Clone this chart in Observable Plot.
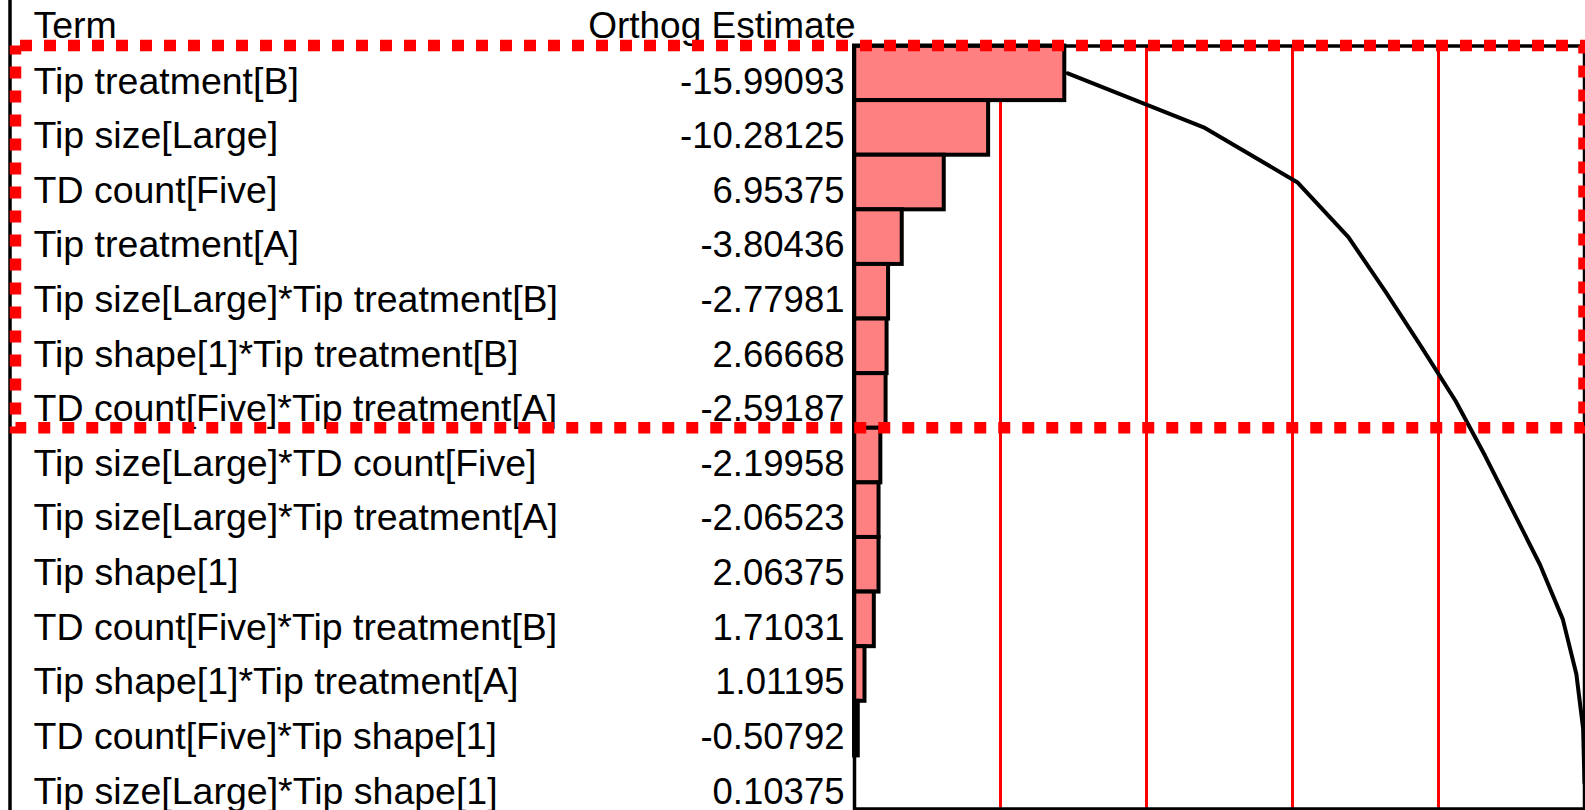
<!DOCTYPE html>
<html><head><meta charset="utf-8">
<script src="https://cdn.jsdelivr.net/npm/d3@7"></script>
<script src="https://cdn.jsdelivr.net/npm/@observablehq/plot@0.6"></script>
<style>
html,body{margin:0;padding:0;background:#fff;}
#chart{width:1585px;height:810px;overflow:hidden;}
</style></head><body><div id="chart"></div>
<script>
const terms = [
  "Tip treatment[B]",
  "Tip size[Large]",
  "TD count[Five]",
  "Tip treatment[A]",
  "Tip size[Large]*Tip treatment[B]",
  "Tip shape[1]*Tip treatment[B]",
  "TD count[Five]*Tip treatment[A]",
  "Tip size[Large]*TD count[Five]",
  "Tip size[Large]*Tip treatment[A]",
  "Tip shape[1]",
  "TD count[Five]*Tip treatment[B]",
  "Tip shape[1]*Tip treatment[A]",
  "TD count[Five]*Tip shape[1]",
  "Tip size[Large]*Tip shape[1]"
];
const estimates = [-15.99093, -10.28125, 6.95375, -3.80436, -2.77981, 2.66668, -2.59187,
  -2.19958, -2.06523, 2.06375, 1.71031, 1.01195, -0.50792, 0.10375];
const cumulativeFractions = [0.2, 0.4, 0.6, 0.8];
const highlightedCount = 7;
const headers = ["Term", "Orthog Estimate"];

const absVals = estimates.map(Math.abs);
const total = d3.sum(absVals);
let run = 0;
const rows = terms.map((t, i) => ({term: t, estimate: estimates[i], abs: absVals[i], cum: (run += absVals[i]), i}));

const font = '"Liberation Sans", Arial, sans-serif';
const fsTerm = 37.5;
const fsNum = 36.5;
const chart = Plot.plot({
  width: 1585, height: 810,
  marginLeft: 854, marginRight: 1, marginTop: 45.5, marginBottom: 0,
  style: {fontFamily: font, background: "white", overflow: "visible"},
  x: {domain: [0, total], axis: null},
  y: {domain: [0, terms.length], reverse: true, axis: null},
  marks: [
    Plot.ruleX(cumulativeFractions, {x: f => f * total, stroke: "#FF0000", strokeWidth: 3}),
    Plot.rect(rows, {x1: 0, x2: "abs", y1: "i", y2: d => d.i + 1, fill: "#FF8080", stroke: "black", strokeWidth: 4, insetRight: 3}),
    Plot.line(rows, {x: "cum", y: d => d.i + 0.5, stroke: "black", strokeWidth: 4}),
    Plot.frame({stroke: "black", strokeWidth: 3.5, insetBottom: 1.5}),
    Plot.ruleX([0], {dx: -844.5, stroke: "black", strokeWidth: 3.5, insetTop: -45.5}),
    Plot.text(rows, {x: 0, y: d => d.i + 1, text: "term", textAnchor: "start", lineAnchor: "bottom", dx: -821, dy: -7, fontSize: fsTerm, fill: "black"}),
    Plot.text(rows, {x: 0, y: d => d.i + 1, text: d => d.estimate.toFixed(5), textAnchor: "end", lineAnchor: "bottom", dx: -10, dy: -7, fontSize: fsNum, fill: "black"}),
    Plot.text([headers[0]], {x: 0, y: 0, text: d => d, textAnchor: "start", lineAnchor: "bottom", dx: -821, dy: -8, fontSize: fsTerm, fill: "black"}),
    Plot.text([headers[1]], {x: 0, y: 0, text: d => d, textAnchor: "end", lineAnchor: "bottom", dx: 1, dy: -8, fontSize: 37, fill: "black"}),
    Plot.rect([highlightedCount], {x1: 0, x2: total, y1: 0, y2: d => d, fill: "none", stroke: "#FF0000", strokeWidth: 11.5, strokeDasharray: "12,12", strokeDashoffset: -4.5, insetLeft: -838.5})
  ]
});
document.getElementById("chart").appendChild(chart);
</script>
</body></html>
